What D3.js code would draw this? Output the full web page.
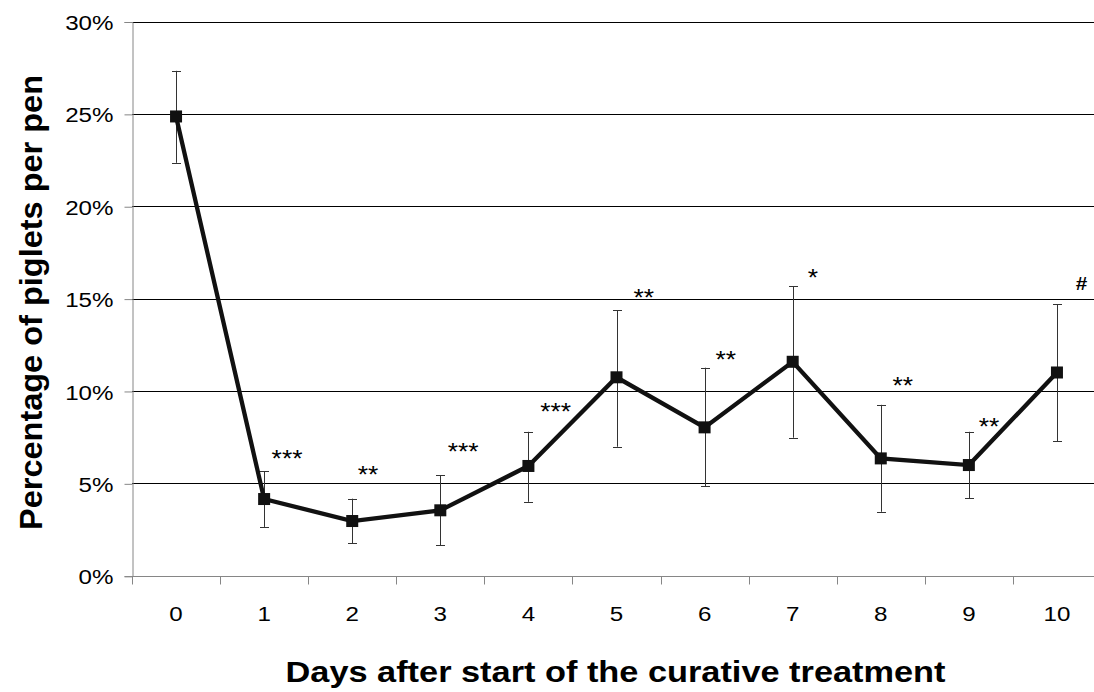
<!DOCTYPE html>
<html>
<head>
<meta charset="utf-8">
<script src="https://cdn.jsdelivr.net/npm/d3@7"></script>
<style>
  body { margin: 0; background: #fff; }
  text { font-family: "Liberation Sans", Arial, sans-serif; fill: #000; }
</style>
</head>
<body>
<div class="chart"></div>
<script>
const width = 1094;
const height = 692;
const stretch = 1.15; // the original picture is a bit wider than tall

// days after treatment start
const days = [0, 1, 2, 3, 4, 5, 6, 7, 8, 9, 10];
// mean % of piglets per pen, and error bar limits
const means = [24.86, 4.15, 2.96, 3.54, 5.94, 10.74, 8.03, 11.58, 6.35, 5.99, 11.0];
const upper = [27.33, 5.65, 4.17, 5.43, 7.79, 14.38, 11.26, 15.68, 9.25, 7.79, 14.69];
const lower = [22.35, 2.64, 1.75, 1.64, 4.0, 6.98, 4.85, 7.47, 3.46, 4.2, 7.27];
// significance marks (label, day position, percent level)
const marks = ['***', '**', '***', '***', '**', '**', '*', '**', '**', '#'];
const markDay = [1.26, 2.18, 3.26, 4.31, 5.31, 6.24, 7.23, 8.25, 9.23, 10.28];
const markLevel = [6.8, 5.94, 7.2, 9.36, 15.51, 12.16, 16.6, 10.77, 8.53, 16.15];
const yTicks = [0, 5, 10, 15, 20, 25, 30];

const svg = d3.select('.chart').append('svg')
    .attr('width', width)
    .attr('height', height);

const x = d3.scaleLinear().domain([-0.5, 10.5]).range([132, 1101]);
const y = d3.scaleLinear().domain([0, 30]).range([575.7, 21.5]);

/* gridlines */
svg.append('g').selectAll('line')
    .data(yTicks.filter(d => d > 0))
    .enter().append('line')
    .attr('x1', x(-0.5)).attr('x2', width)
    .attr('y1', d => Math.round(y(d)) + 0.5).attr('y2', d => Math.round(y(d)) + 0.5)
    .attr('stroke', '#000').attr('stroke-width', 1);

/* y axis */
const yAxis = d3.axisLeft(y).tickValues(yTicks).tickSize(8).tickPadding(10)
    .tickFormat(d => d + '%');
const gy = svg.append('g')
    .attr('transform', `translate(${x(-0.5) + 0.5},0.5)`)
    .call(yAxis);
gy.select('.domain').attr('stroke', '#868686');
gy.selectAll('.tick line').attr('stroke', '#868686');
gy.selectAll('.tick text')
    .style('font-size', '21px')
    .attr('dy', '0.36em')
    .attr('x', -19 / stretch)
    .attr('transform', `scale(${stretch},1)`);

/* x axis */
const gx = svg.append('g')
    .attr('transform', `translate(0,${Math.round(y(0)) + 0.5})`);
gx.append('line')
    .attr('x1', x(-0.5)).attr('x2', width)
    .attr('stroke', '#868686');
gx.selectAll('.xtick')
    .data(d3.range(days.length + 1).map(i => i - 0.5))
    .enter().append('line')
    .attr('x1', d => Math.round(x(d)) + 0.5).attr('x2', d => Math.round(x(d)) + 0.5)
    .attr('y1', 0).attr('y2', 8)
    .attr('stroke', '#868686');
gx.selectAll('.xlabel')
    .data(days)
    .enter().append('text')
    .attr('transform', d => `translate(${x(d)},44) scale(${stretch},1)`)
    .attr('text-anchor', 'middle')
    .style('font-size', '21px')
    .text(d => d);

/* error bars */
const err = svg.append('g').attr('stroke', '#333').attr('stroke-width', 1);
days.forEach((d, i) => {
    const cx = Math.round(x(d)) + 0.5;
    err.append('line').attr('x1', cx).attr('x2', cx)
        .attr('y1', y(upper[i])).attr('y2', y(lower[i]));
    err.append('line').attr('x1', cx - 4.5).attr('x2', cx + 4.5)
        .attr('y1', Math.round(y(upper[i])) + 0.5).attr('y2', Math.round(y(upper[i])) + 0.5);
    err.append('line').attr('x1', cx - 4.5).attr('x2', cx + 4.5)
        .attr('y1', Math.round(y(lower[i])) + 0.5).attr('y2', Math.round(y(lower[i])) + 0.5);
});

/* line + markers */
const line = d3.line().x((d, i) => x(days[i])).y(d => y(d));
svg.append('path')
    .attr('d', line(means))
    .attr('fill', 'none')
    .attr('stroke', '#111')
    .attr('stroke-width', 4.3)
    .attr('stroke-linejoin', 'miter');
svg.append('g').selectAll('rect')
    .data(means)
    .enter().append('rect')
    .attr('x', (d, i) => x(days[i]) - 6)
    .attr('y', d => y(d) - 6)
    .attr('width', 12).attr('height', 12)
    .attr('fill', '#111');

/* significance marks */
svg.append('g').selectAll('text')
    .data(marks)
    .enter().append('text')
    .attr('transform', (d, i) =>
        `translate(${x(markDay[i])},${y(markLevel[i]) + (d === '#' ? 13 : 17)}) scale(${stretch},1)`)
    .attr('text-anchor', 'middle')
    .style('font-size', d => d === '#' ? '18px' : '23px')
    .style('font-weight', d => d === '#' ? 'bold' : 'normal')
    .text(d => d);

/* axis titles */
svg.append('text')
    .attr('x', 615.5).attr('y', 682)
    .attr('text-anchor', 'middle')
    .attr('textLength', 660)
    .attr('lengthAdjust', 'spacingAndGlyphs')
    .style('font-size', '30px').style('font-weight', 'bold')
    .text('Days after start of the curative treatment');
svg.append('text')
    .attr('transform', 'translate(42,302.5) rotate(-90)')
    .attr('text-anchor', 'middle')
    .attr('textLength', 455)
    .attr('lengthAdjust', 'spacingAndGlyphs')
    .style('font-size', '32px').style('font-weight', 'bold')
    .text('Percentage of piglets per pen');
</script>
</body>
</html>
